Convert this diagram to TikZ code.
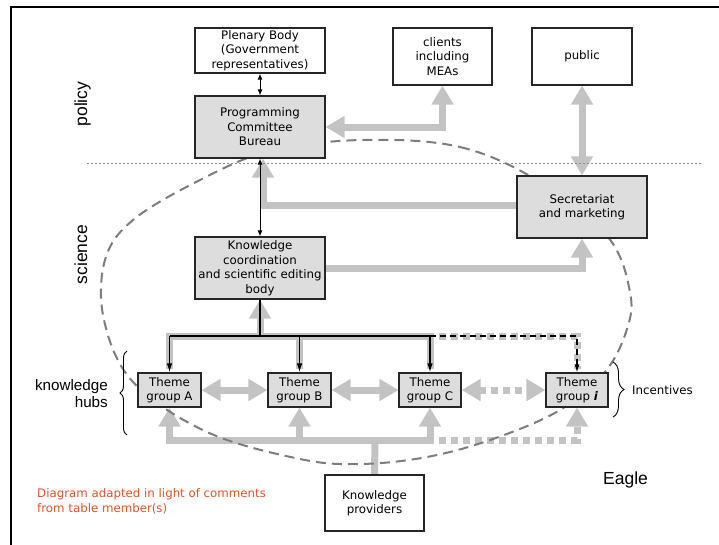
\documentclass[tikz,border=0pt]{standalone}
\usepackage{fontspec}
\setmainfont{DejaVu Sans}
\newfontfamily\arialfont{Liberation Sans}
\usetikzlibrary{arrows.meta,decorations.pathreplacing,backgrounds}
\definecolor{arrowgray}{RGB}{195,195,195}
\definecolor{boxfill}{RGB}{221,221,221}
\definecolor{curvegray}{RGB}{125,125,125}
\definecolor{notered}{RGB}{226,82,40}
\newcommand\bxfont{\fontsize{11.8}{14.5}\selectfont}
\newcommand\bigfont{\arialfont\fontsize{17.5}{20}\selectfont}
\newcommand\hubfont{\arialfont\fontsize{15.2}{17}\selectfont}

\begin{document}
\begin{tikzpicture}[x=1pt,y=-1pt,
  box/.style={draw=black!85, line width=1.1pt, inner sep=0pt, align=center,
    font=\bxfont},
  plainbox/.style={box, fill=white},
  shadebox/.style={box, fill=boxfill},
  gline/.style={draw=arrowgray, line width=7pt,
    >={Triangle[length=19pt,width=21pt]}},
  dotted gray/.style={gline, dash pattern=on 7pt off 5pt},
  blk/.style={draw=black, line width=1pt, >={Latex[length=6pt,width=5pt]}},
  hubline/.style={blk, line width=1.4pt, >={Latex[length=9pt,width=5.5pt]}},
  zone/.style={draw=curvegray, line width=2pt, dash pattern=on 10pt off 6pt},
  brace/.style={draw=black, line width=0.9pt, decorate},
]
\useasboundingbox (0,0) rectangle (719,544);

% frame
\draw[line width=2pt] (11,546) -- (11,7) -- (721,7);

% policy / science separator
\draw[draw=black!45, line width=0.8pt, dash pattern=on 2pt off 2pt] (87,163) -- (702,163);

% boxes
\node[plainbox, minimum width=130pt, minimum height=45pt] (plen) at (260,50.5)
  {Plenary Body\\(Government\\representatives)};
\node[shadebox, minimum width=130pt, minimum height=62pt] (prog) at (260,127)
  {Programming\\Committee\\Bureau};
\node[plainbox, minimum width=99pt, minimum height=57pt] (cli) at (442.5,56.5)
  {clients\\including\\MEAs};
\node[plainbox, minimum width=100pt, minimum height=57pt] (pub) at (582,56.5)
  {public};
\node[shadebox, minimum width=130pt, minimum height=62pt] (sec) at (582,207)
  {Secretariat\\and marketing};
\node[shadebox, minimum width=130pt, minimum height=62pt] (kcb) at (260,268)
  {Knowledge\\coordination\\and scientific editing\\body};
\node[shadebox, minimum width=63pt, minimum height=34pt] (tA) at (169.5,390)
  {Theme\\group A};
\node[shadebox, minimum width=63pt, minimum height=34pt] (tB) at (299.5,390)
  {Theme\\group B};
\node[shadebox, minimum width=62pt, minimum height=34pt] (tC) at (430,390)
  {Theme\\group C};
\node[shadebox, minimum width=62pt, minimum height=34pt] (tI) at (577,390)
  {Theme\\group \textbf{\textit{i}}};
\node[plainbox, minimum width=99pt, minimum height=56pt] (kp) at (374.5,503)
  {Knowledge\\providers};

% bus lines above and below the theme groups
\coordinate (ht) at (260,336);
\coordinate (hb) at (375,440);

\begin{scope}[on background layer]
  % wide gray flows
  \draw[gline,<->] (prog.east) -| (cli.south);
  \draw[gline,<->] (pub.south) -- (sec.north);
  \draw[gline,->] (sec.west |- 0,205) -| ([xshift=3pt]prog.south);
  \draw[gline,->] (kcb.east) -| (sec.south);

  \draw[gline,line cap=rect] (tA.north |- ht) -- (tC.north |- ht);
  \draw[gline] (tA.north |- ht) -- ([yshift=3pt]tA.north);
  \draw[gline] (tB.north |- ht) -- ([yshift=3pt]tB.north);
  \draw[gline] (tC.north |- ht) -- ([yshift=3pt]tC.north);
  \draw[gline,->] (ht) -- (kcb.south);
  \draw[dotted gray] ([xshift=9pt]tC.north |- ht) -| ([yshift=3pt]tI.north);

  \draw[gline,<->] (tA.east) -- (tB.west);
  \draw[gline,<->] (tB.east) -- (tC.west);
  \draw[dotted gray,<->] (tC.east) -- (tI.west);

  \draw[gline] (kp.north) -- (hb);
  \draw[gline,line cap=rect] (tA.south |- hb) -- (tC.south |- hb);
  \draw[gline,->] (tA.south |- hb) -- (tA.south);
  \draw[gline,->] (tB.south |- hb) -- (tB.south);
  \draw[gline,->] (tC.south |- hb) -- (tC.south);
  \draw[dotted gray,->] ([xshift=9pt]tC.south |- hb) -| (tI.south);

  % dashed boundary of the science zone
  \draw[zone] plot[smooth cycle, tension=0.6] coordinates {
    (362,140) (460,147) (540,182) (608,237) (630,292) (627,329) (605,372)
    (560,410) (493,439) (427,457) (360,464) (300,459) (207,432) (133,382)
    (104,320) (105,260) (133,220) (200,180) (270,151)};
\end{scope}

% thin black links
\draw[blk,<->] (plen.south) -- (prog.north);
\draw[blk,<->] (prog.south) -- (kcb.north);
\draw[hubline] (kcb.south) -- (ht);
\draw[hubline] (tA.north |- ht) -- (tC.north |- ht);
\draw[hubline,->] (tA.north |- ht) -- (tA.north);
\draw[hubline,->] (tB.north |- ht) -- (tB.north);
\draw[hubline,->] (tC.north |- ht) -- (tC.north);
\draw[blk,line width=1.1pt,->,dash pattern=on 6pt off 4pt,
  >={Latex[length=8pt,width=5pt]}] (tC.north |- ht) -| (tI.north);

% braces
\draw[brace, decoration={brace, amplitude=7pt}] (127,435) -- (127,351);
\draw[brace, decoration={brace, amplitude=11pt}] (613,362) -- (613,417);

% labels
\node[rotate=90, anchor=base, font=\bigfont, inner sep=0pt] (lpol) at (87,104) {policy};
\node[rotate=90, anchor=base, font=\bigfont, inner sep=0pt] (lsci) at (87,254.5) {science};
\node[anchor=base east, font=\hubfont, inner sep=0pt] (lkh1) at (108,390) {knowledge};
\node[anchor=base east, font=\hubfont, inner sep=0pt] (lkh2) at (108,407) {hubs};
\node[anchor=base west, font=\bxfont, inner sep=0pt] (linc) at (632,394) {Incentives};
\node[anchor=base west, font=\bigfont, inner sep=0pt] (leag) at (603,484) {Eagle};
\node[anchor=base west, font=\bxfont, text=notered, inner sep=0pt] (lnote1) at (37,497)
  {Diagram adapted in light of comments};
\node[anchor=base west, font=\bxfont, text=notered, inner sep=0pt] (lnote2) at (37,512)
  {from table member(s)};
\end{tikzpicture}
\end{document}
